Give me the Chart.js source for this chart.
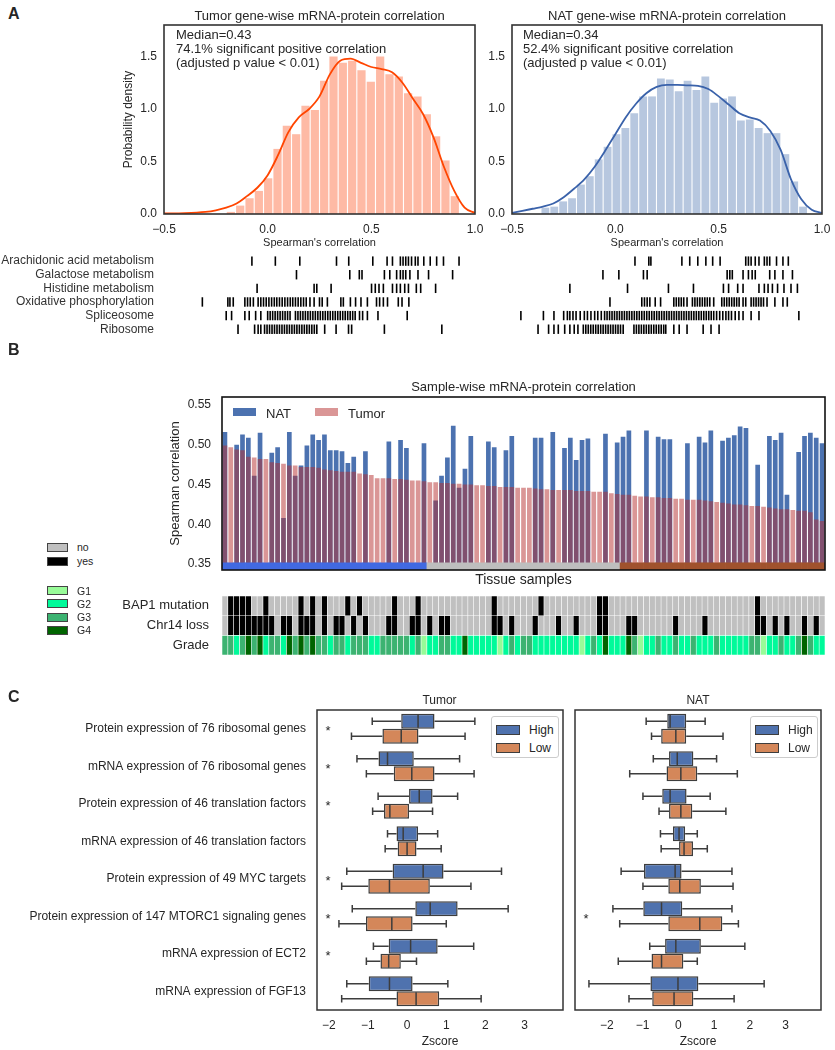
<!DOCTYPE html>
<html>
<head>
<meta charset="utf-8">
<script src="https://cdn.jsdelivr.net/npm/chart.js@4.4.0/dist/chart.umd.min.js"></script>
<style>
  body { margin: 0; background: #fff; font-family: "Liberation Sans", Arial, sans-serif; color: #262626; }
  #page { position: relative; width: 835px; height: 1050px; overflow: hidden; }
  .txt { position: absolute; white-space: nowrap; line-height: 1; }
  .rect { position: absolute; box-sizing: border-box; }
</style>
</head>
<body>
<div id="page"></div>
<script>
// ---------- Panel A: gene-wise correlation histograms ----------
const tumorBinCenters = [-0.1775, -0.1325, -0.0875, -0.0425, 0.0025, 0.0475, 0.0925, 0.1375, 0.1825, 0.2275, 0.2725, 0.3175, 0.3625, 0.4075, 0.4525, 0.4975, 0.5425, 0.5875, 0.6325, 0.6775, 0.7225, 0.7675, 0.8125, 0.8575, 0.9025];
const tumorDensity = [0.02, 0.08, 0.15, 0.22, 0.34, 0.62, 0.84, 0.76, 1.03, 0.99, 1.27, 1.5, 1.44, 1.46, 1.37, 1.26, 1.5, 1.33, 1.31, 1.15, 1.12, 0.95, 0.74, 0.51, 0.17];
const tumorKdeX = [-0.5, -0.4, -0.3, -0.25, -0.2, -0.15, -0.1, -0.05, 0.0, 0.05, 0.1, 0.15, 0.2, 0.25, 0.3, 0.35, 0.4, 0.45, 0.5, 0.55, 0.6, 0.65, 0.7, 0.75, 0.8, 0.85, 0.9, 0.95, 1.0];
const tumorKdeY = [0.005, 0.008, 0.02, 0.035, 0.06, 0.1, 0.17, 0.25, 0.37, 0.56, 0.78, 0.92, 1.0, 1.12, 1.33, 1.46, 1.48, 1.44, 1.4, 1.38, 1.35, 1.25, 1.1, 0.95, 0.73, 0.45, 0.22, 0.06, 0.01];

const natBinCenters = [-0.3385, -0.2955, -0.2525, -0.2095, -0.1665, -0.1235, -0.0805, -0.0375, 0.0055, 0.0485, 0.0915, 0.1345, 0.1775, 0.2205, 0.2635, 0.3065, 0.3495, 0.3925, 0.4355, 0.4785, 0.5215, 0.5645, 0.6075, 0.6505, 0.6935, 0.7365, 0.7795, 0.8225, 0.8655, 0.9085];
const natDensity = [0.06, 0.07, 0.12, 0.15, 0.28, 0.36, 0.52, 0.64, 0.76, 0.82, 0.96, 1.12, 1.12, 1.29, 1.28, 1.17, 1.27, 1.18, 1.31, 1.06, 1.10, 1.12, 0.89, 0.90, 0.82, 0.77, 0.77, 0.57, 0.31, 0.07];
const natKdeX = [-0.5, -0.45, -0.4, -0.35, -0.3, -0.25, -0.2, -0.15, -0.1, -0.05, 0.0, 0.05, 0.1, 0.15, 0.2, 0.25, 0.3, 0.35, 0.4, 0.45, 0.5, 0.55, 0.6, 0.65, 0.7, 0.75, 0.8, 0.85, 0.9, 0.95, 1.0];
const natKdeY = [0.01, 0.03, 0.05, 0.07, 0.1, 0.16, 0.24, 0.33, 0.45, 0.6, 0.76, 0.92, 1.05, 1.15, 1.21, 1.23, 1.23, 1.225, 1.22, 1.19, 1.12, 1.04, 0.96, 0.92, 0.89, 0.79, 0.61, 0.33, 0.14, 0.04, 0.01];

const histTicksX = [-0.5, 0.0, 0.5, 1.0];

// pathway rug positions (gene correlations)
const pathways = ["Arachidonic acid metabolism", "Galactose metabolism", "Histidine metabolism", "Oxidative phosphorylation", "Spliceosome", "Ribosome"];
const tumorRugs = [
  [-0.076, 0.037, 0.155, 0.332, 0.391, 0.507, 0.576, 0.602, 0.640, 0.653, 0.666, 0.679, 0.694, 0.712, 0.725, 0.753, 0.784, 0.815, 0.848, 0.923],
  [0.139, 0.396, 0.442, 0.455, 0.563, 0.589, 0.622, 0.640, 0.653, 0.666, 0.686, 0.725, 0.776, 0.892],
  [-0.051, 0.224, 0.237, 0.306, 0.501, 0.519, 0.537, 0.558, 0.602, 0.622, 0.640, 0.661, 0.679, 0.717, 0.738, 0.810],
  [-0.315, -0.192, -0.182, -0.166, -0.110, -0.097, -0.084, -0.069, -0.046, -0.033, -0.020, -0.007, 0.006, 0.019, 0.032, 0.044, 0.057, 0.070, 0.083, 0.096, 0.109, 0.121, 0.134, 0.147, 0.160, 0.173, 0.186, 0.204, 0.224, 0.250, 0.263, 0.288, 0.353, 0.365, 0.399, 0.424, 0.450, 0.481, 0.525, 0.540, 0.558, 0.578, 0.630, 0.648, 0.681],
  [-0.200, -0.174, -0.110, -0.089, -0.058, -0.033, 0.0, 0.012, 0.024, 0.036, 0.048, 0.060, 0.072, 0.084, 0.096, 0.108, 0.134, 0.146, 0.158, 0.170, 0.182, 0.194, 0.206, 0.218, 0.230, 0.242, 0.254, 0.266, 0.278, 0.290, 0.302, 0.314, 0.326, 0.338, 0.350, 0.362, 0.374, 0.386, 0.398, 0.410, 0.422, 0.443, 0.458, 0.481, 0.532, 0.673],
  [-0.143, -0.063, -0.046, -0.033, -0.015, -0.003, 0.009, 0.021, 0.033, 0.045, 0.057, 0.069, 0.081, 0.093, 0.105, 0.117, 0.129, 0.141, 0.153, 0.165, 0.177, 0.189, 0.201, 0.213, 0.225, 0.237, 0.275, 0.330, 0.390, 0.405, 0.563, 0.840]
];
const natRugs = [
  [0.095, 0.162, 0.172, 0.322, 0.360, 0.399, 0.438, 0.471, 0.507, 0.631, 0.644, 0.657, 0.677, 0.695, 0.721, 0.734, 0.747, 0.780, 0.811, 0.837],
  [-0.060, 0.017, 0.136, 0.154, 0.541, 0.554, 0.566, 0.618, 0.644, 0.662, 0.677, 0.747, 0.772, 0.811, 0.857],
  [-0.220, 0.059, 0.257, 0.378, 0.523, 0.548, 0.592, 0.618, 0.695, 0.721, 0.739, 0.760, 0.785, 0.816, 0.850, 0.881],
  [-0.026, 0.128, 0.141, 0.154, 0.167, 0.193, 0.219, 0.283, 0.295, 0.307, 0.319, 0.331, 0.347, 0.373, 0.385, 0.397, 0.409, 0.421, 0.433, 0.445, 0.457, 0.476, 0.515, 0.527, 0.539, 0.551, 0.563, 0.575, 0.587, 0.599, 0.618, 0.631, 0.657, 0.669, 0.681, 0.693, 0.705, 0.717, 0.734, 0.772, 0.811, 0.832],
  [-0.457, -0.348, -0.297, -0.250, -0.232, -0.220, -0.205, -0.190, -0.170, -0.150, -0.135, -0.118, -0.100, -0.085, -0.068, -0.052, -0.040, -0.028, -0.016, -0.004, 0.008, 0.020, 0.032, 0.044, 0.056, 0.068, 0.080, 0.092, 0.104, 0.116, 0.128, 0.140, 0.152, 0.164, 0.176, 0.188, 0.200, 0.212, 0.224, 0.236, 0.248, 0.260, 0.272, 0.284, 0.296, 0.308, 0.320, 0.332, 0.344, 0.356, 0.368, 0.380, 0.392, 0.404, 0.416, 0.428, 0.440, 0.452, 0.464, 0.476, 0.490, 0.505, 0.520, 0.535, 0.548, 0.562, 0.580, 0.598, 0.618, 0.657, 0.695, 0.888],
  [-0.374, -0.323, -0.297, -0.276, -0.245, -0.220, -0.199, -0.181, -0.155, -0.143, -0.131, -0.119, -0.107, -0.095, -0.083, -0.071, -0.059, -0.047, -0.035, -0.023, -0.011, 0.001, 0.013, 0.025, 0.038, 0.090, 0.102, 0.114, 0.126, 0.138, 0.150, 0.162, 0.174, 0.186, 0.198, 0.210, 0.222, 0.234, 0.244, 0.283, 0.309, 0.347, 0.425, 0.463, 0.502]
];

// ---------- Panel B: sample-wise correlation ----------
const tumorCorr = [0.499, 0.497, 0.494, 0.493, 0.485, 0.484, 0.482, 0.482, 0.478, 0.477, 0.476, 0.474, 0.474, 0.472, 0.472, 0.472, 0.471, 0.469, 0.468, 0.467,
  0.466, 0.466, 0.466, 0.464, 0.463, 0.462, 0.458, 0.458, 0.458, 0.457, 0.457, 0.456, 0.455, 0.455, 0.454, 0.453, 0.453, 0.452, 0.452, 0.451,
  0.451, 0.450, 0.450, 0.449, 0.449, 0.448, 0.448, 0.447, 0.447, 0.447, 0.446, 0.446, 0.446, 0.445, 0.444, 0.444, 0.443, 0.443, 0.443, 0.443,
  0.442, 0.442, 0.442, 0.441, 0.441, 0.441, 0.439, 0.438, 0.437, 0.437, 0.436, 0.435, 0.435, 0.434, 0.434, 0.433, 0.433, 0.432, 0.432, 0.431,
  0.431, 0.431, 0.430, 0.429, 0.428, 0.427, 0.426, 0.425, 0.425, 0.424, 0.423, 0.423, 0.422, 0.421, 0.420, 0.419, 0.419, 0.418, 0.417, 0.417,
  0.415, 0.406, 0.404];
const natCorr = [0.516, null, 0.500, 0.513, 0.509, 0.461, 0.515, null, 0.490, 0.497, 0.408, 0.516, 0.461, 0.474, 0.499, 0.513, 0.506, 0.513, 0.493, 0.493,
  0.492, 0.477, 0.485, null, 0.492, null, null, null, 0.504, null, 0.506, 0.496, null, null, 0.502, null, 0.430, 0.461, 0.484, 0.524,
  0.446, 0.470, 0.511, null, null, 0.504, 0.497, null, 0.493, 0.511, null, null, null, 0.509, 0.509, null, 0.516, null, 0.496, 0.509,
  0.481, 0.506, 0.508, null, null, 0.514, null, 0.503, 0.510, 0.518, null, null, 0.518, null, 0.510, 0.507, 0.507, null, null, 0.502,
  null, 0.510, 0.503, 0.518, null, 0.505, 0.509, 0.512, 0.523, 0.521, null, 0.475, null, 0.511, 0.506, 0.515, 0.437, null, 0.491, 0.511,
  0.515, 0.509, 0.502];
const sampleGroupSizes = [35, 33, 35];
const sampleGroupColors = ["#4169E1", "#BEBEBE", "#A0522D"];
const corrTicks = [0.35, 0.40, 0.45, 0.50, 0.55];

// clinical annotation tracks (1 = yes)
const bap1Samples = [1, 2, 3, 4, 7, 13, 15, 17, 21, 23, 29, 33, 46, 54, 64, 65, 91];
const chr14Samples = [1, 2, 3, 4, 5, 6, 7, 8, 10, 11, 13, 14, 15, 17, 19, 20, 22, 24, 28, 29, 32, 33, 35, 37, 38, 46, 47, 49, 53, 57, 60, 64, 65, 69, 70, 77, 82, 91, 92, 94, 96, 99, 101];
const grade = [3, 3, 2, 3, 4, 3, 4, 2, 3, 3, 2, 4, 3, 4, 3, 4, 3, 3, 2, 3, 3, 2, 3, 3, 3, 2, 2, 3, 3, 3, 3, 3, 2, 3, 1,
  2, 2, 3, 3, 2, 2, 4, 2, 2, 2, 2, 2, 1, 2, 3, 2, 3, 3, 2, 2, 2, 2, 2, 2, 2, 2, 1, 2, 3, 2, 4, 2, 2, 2,
  4, 3, 1, 2, 2, 3, 2, 2, 3, 2, 2, 3, 2, 2, 2, 3, 2, 2, 2, 2, 2, 3, 3, 1, 2, 2, 3, 2, 2, 3, 4, 3, 2, 2];
const gradeColors = { 1: "#98FB98", 2: "#00FA9A", 3: "#3CB371", 4: "#006400" };

// ---------- Panel C: box plots [min, q1, median, q3, max] ----------
const geneSets = ["Protein expression of 76 ribosomal genes", "mRNA expression of 76 ribosomal genes", "Protein expression of 46 translation factors",
  "mRNA expression of 46 translation factors", "Protein expression of 49 MYC targets", "Protein expression of 147 MTORC1 signaling genes",
  "mRNA expression of ECT2", "mRNA expression of FGF13"];
const tumorHigh = [[-0.89, -0.15, 0.28, 0.70, 1.73], [-1.28, -0.73, -0.50, 0.17, 1.34], [-0.74, 0.05, 0.31, 0.65, 1.29], [-0.50, -0.27, -0.10, 0.28, 0.78],
  [-1.54, -0.37, 0.41, 0.93, 2.41], [-1.40, 0.21, 0.59, 1.29, 2.58], [-0.86, -0.47, 0.09, 0.78, 1.70], [-1.54, -0.98, -0.45, 0.14, 1.04]];
const tumorLow = [[-1.42, -0.63, -0.15, 0.29, 1.48], [-1.04, -0.34, 0.12, 0.70, 1.71], [-0.88, -0.59, -0.44, 0.05, 0.65], [-0.56, -0.24, 0.0, 0.24, 0.87],
  [-1.67, -0.99, -0.45, 0.58, 1.63], [-1.74, -1.05, -0.39, 0.14, 1.0], [-1.04, -0.68, -0.47, -0.16, 0.24], [-1.67, -0.27, 0.23, 0.82, 1.89]];
const natHigh = [[-0.90, -0.31, -0.23, 0.22, 0.75], [-0.70, -0.26, -0.03, 0.42, 1.07], [-0.99, -0.45, -0.23, 0.23, 0.89], [-0.50, -0.15, 0.02, 0.19, 0.53],
  [-1.60, -0.96, -0.09, 0.09, 1.50], [-1.83, -0.98, -0.47, 0.11, 1.50], [-0.80, -0.37, -0.07, 0.63, 1.86], [-2.50, -0.78, -0.01, 0.56, 2.40]];
const natLow = [[-0.75, -0.48, -0.07, 0.22, 1.25], [-1.36, -0.33, 0.07, 0.53, 1.65], [-0.54, -0.26, 0.07, 0.39, 1.33], [-0.48, 0.02, 0.16, 0.41, 0.81],
  [-0.99, -0.28, 0.04, 0.63, 1.53], [-1.64, -0.28, 0.60, 1.23, 1.68], [-1.68, -0.75, -0.47, 0.14, 0.53], [-1.38, -0.73, -0.12, 0.42, 1.56]];
const tumorSig = [1, 1, 1, 0, 1, 1, 1, 0];
const natSig = [0, 0, 0, 0, 0, 1, 0, 0];

const FONT = "'Liberation Sans', Arial, sans-serif";
Chart.defaults.font.family = FONT;
Chart.defaults.font.size = 12;
Chart.defaults.color = "#262626";
Chart.defaults.animation = false;

const page = document.getElementById("page");

function addCanvas(left, top, width, height) {
  const c = document.createElement("canvas");
  c.width = width;
  c.height = height;
  c.style.cssText = `position:absolute;left:${left}px;top:${top}px;width:${width}px;height:${height}px;`;
  page.appendChild(c);
  return c;
}

function addText(text, x, y, size, align, extra) {
  const d = document.createElement("div");
  d.className = "txt";
  d.textContent = text;
  const tx = align === "center" ? "-50%" : align === "right" ? "-100%" : "0";
  d.style.cssText = `left:${x}px;top:${y}px;font-size:${size}px;transform:translate(${tx},-50%);${extra || ""}`;
  page.appendChild(d);
}

function addRect(x, y, w, h, style) {
  const d = document.createElement("div");
  d.className = "rect";
  d.style.cssText = `left:${x}px;top:${y}px;width:${w}px;height:${h}px;${style}`;
  page.appendChild(d);
}

// fixed axis sizes so every chart area lands where the figure has it
function fixY(width) {
  return (s) => { s.width = width; s.paddingTop = 0; s.paddingBottom = 0; };
}
function fixX(height) {
  return (s) => { s.height = height; s.paddingLeft = 0; s.paddingRight = 0; };
}
const minus = (v) => String(v).replace("-", "\u2212");

const framePlugin = {
  id: "frame",
  afterDraw(chart, args, opts) {
    const a = chart.chartArea;
    const ctx = chart.ctx;
    ctx.save();
    ctx.strokeStyle = opts.color || "#262626";
    ctx.lineWidth = opts.width || 1.5;
    ctx.strokeRect(a.left, a.top, a.right - a.left, a.bottom - a.top);
    ctx.restore();
  }
};

const boxPlugin = {
  id: "boxes",
  afterDatasetsDraw(chart, args, opts) {
    const ctx = chart.ctx;
    const xs = chart.scales.x;
    const ys = chart.scales.y;
    ctx.save();
    ctx.strokeStyle = "#3d3d3d";
    ctx.lineWidth = 1.5;
    chart.data.datasets.forEach((ds, d) => {
      chart.getDatasetMeta(d).data.forEach((bar, i) => {
        const p = ds.stats[i].map((v) => xs.getPixelForValue(v));
        const y = bar.y;
        const h = bar.height;
        ctx.beginPath();
        ctx.moveTo(p[0], y); ctx.lineTo(p[1], y);
        ctx.moveTo(p[3], y); ctx.lineTo(p[4], y);
        ctx.moveTo(p[0], y - h / 4); ctx.lineTo(p[0], y + h / 4);
        ctx.moveTo(p[4], y - h / 4); ctx.lineTo(p[4], y + h / 4);
        ctx.moveTo(p[2], y - h / 2 + 1); ctx.lineTo(p[2], y + h / 2 - 1);
        ctx.stroke();
      });
    });
    ctx.fillStyle = "#262626";
    ctx.font = "13px " + FONT;
    ctx.textAlign = "center";
    ctx.textBaseline = "middle";
    (opts.sig || []).forEach((s, i) => {
      if (s) ctx.fillText("*", chart.chartArea.left + 11, ys.getPixelForValue(i) + 3);
    });
    ctx.restore();
  }
};

// ---------- Panel A charts ----------
function histChart(canvas, bins, dens, kx, ky, barColor, lineColor, yWidth, showTitle, padRight) {
  return new Chart(canvas, {
    type: "bar",
    data: {
      datasets: [
        {
          type: "line",
          data: kx.map((x, i) => ({ x: x, y: ky[i] })),
          borderColor: lineColor,
          borderWidth: 1.8,
          pointRadius: 0,
          cubicInterpolationMode: "monotone",
          fill: false
        },
        {
          type: "bar",
          data: bins.map((x, i) => ({ x: x, y: dens[i] })),
          backgroundColor: barColor,
          borderWidth: 0,
          barPercentage: 0.88,
          categoryPercentage: 1.0
        }
      ]
    },
    options: {
      responsive: false,
      layout: { padding: { top: 5, right: padRight, left: 0, bottom: 0 } },
      plugins: { legend: { display: false }, tooltip: { enabled: false }, frame: { color: "#333", width: 1.6 } },
      scales: {
        x: {
          type: "linear", min: -0.5, max: 1.0, offset: false,
          grid: { display: false, drawTicks: false }, border: { display: false },
          afterBuildTicks: (s) => { s.ticks = histTicksX.map((v) => ({ value: v })); },
          ticks: { padding: 8, font: { size: 12 }, callback: (v) => minus(v.toFixed(1)) },
          title: { display: true, text: "Spearman's correlation", font: { size: 11 }, padding: 0 },
          afterFit: fixX(36)
        },
        y: {
          min: 0, max: 1.8,
          grid: { display: false, drawTicks: false }, border: { display: false },
          ticks: { stepSize: 0.5, includeBounds: false, padding: 7, font: { size: 12 }, callback: (v) => v.toFixed(1) },
          title: { display: showTitle, text: "Probability density", font: { size: 12 }, padding: { top: 11, bottom: 0 } },
          afterFit: fixY(yWidth)
        }
      }
    },
    plugins: [framePlugin]
  });
}

histChart(addCanvas(110, 20, 380, 230), tumorBinCenters, tumorDensity, tumorKdeX, tumorKdeY,
  "rgba(252,90,40,0.42)", "#FF4500", 54, true, 15);
histChart(addCanvas(480, 20, 355, 230), natBinCenters, natDensity, natKdeX, natKdeY,
  "rgba(76,114,176,0.4)", "#3A62AA", 32, false, 13);

function rugChart(canvas, rugs, showLabels, yWidth, padLeft, padRight) {
  return new Chart(canvas, {
    type: "scatter",
    data: {
      datasets: rugs.map((vals, r) => ({
        data: vals.map((v) => ({ x: v, y: pathways[r] })),
        pointStyle: "line",
        rotation: 90,
        radius: 4.7,
        borderWidth: 1.6,
        borderColor: "#000",
        backgroundColor: "#000",
        clip: false
      }))
    },
    options: {
      responsive: false,
      layout: { padding: { top: 6, bottom: 7, left: padLeft, right: padRight } },
      plugins: { legend: { display: false }, tooltip: { enabled: false } },
      scales: {
        x: { type: "linear", min: -0.5, max: 1.0, display: false },
        y: {
          type: "category", labels: pathways, offset: true, display: showLabels,
          grid: { display: false, drawTicks: false }, border: { display: false },
          ticks: { padding: 10, autoSkip: false, font: { size: 12 }, color: "#333" },
          afterFit: fixY(yWidth)
        }
      }
    }
  });
}
rugChart(addCanvas(0, 248, 490, 95), tumorRugs, true, 164, 0, 15);
rugChart(addCanvas(500, 248, 335, 95), natRugs, false, 0, 12, 13);

// ---------- Panel B chart ----------
const sampleIds = tumorCorr.map((_, i) => "S" + (i + 1));
const sampleStripColors = [];
sampleGroupSizes.forEach((n, g) => { for (let k = 0; k < n; k++) sampleStripColors.push(sampleGroupColors[g]); });
const corrMin = 0.3425;

new Chart(addCanvas(160, 392, 675, 197), {
  type: "bar",
  data: {
    labels: sampleIds,
    datasets: [
      {
        label: "strip",
        data: sampleIds.map(() => [corrMin, 0.3515]),
        backgroundColor: sampleStripColors,
        borderWidth: 0, barPercentage: 1.0, categoryPercentage: 1.0, grouped: false
      },
      {
        label: "Tumor",
        data: tumorCorr,
        backgroundColor: "rgba(181,45,45,0.5)",
        borderWidth: 0, barPercentage: 0.8, categoryPercentage: 1.0, grouped: false
      },
      {
        label: "NAT",
        data: natCorr,
        backgroundColor: "#4C72B0",
        borderWidth: 0, barPercentage: 0.8, categoryPercentage: 1.0, grouped: false
      }
    ]
  },
  options: {
    responsive: false,
    layout: { padding: { top: 5, right: 10, left: 0, bottom: 0 } },
    plugins: { legend: { display: false }, tooltip: { enabled: false }, frame: { color: "#111", width: 1.6 } },
    scales: {
      x: {
        grid: { display: false, drawTicks: false }, border: { display: false },
        ticks: { display: false },
        title: { display: true, text: "Tissue samples", font: { size: 14 }, padding: 0 },
        afterFit: fixX(19)
      },
      y: {
        min: corrMin, max: 0.5601,
        grid: { display: false, drawTicks: false }, border: { display: false },
        afterBuildTicks: (s) => { s.ticks = corrTicks.map((v) => ({ value: v })); },
        ticks: { padding: 11, font: { size: 12 }, callback: (v) => v.toFixed(2) },
        title: { display: true, text: "Spearman correlation", font: { size: 13 }, padding: { top: 8, bottom: 0 } },
        afterFit: fixY(62)
      }
    }
  },
  plugins: [framePlugin]
});

// annotation heatmap
const trackRows = { 2.5: "BAP1 mutation", 1.5: "Chr14 loss", 0.5: "Grade" };
const binColor = (on) => (on ? "#000000" : "#C0C0C0");
new Chart(addCanvas(0, 590, 835, 70), {
  type: "bar",
  data: {
    labels: sampleIds,
    datasets: [
      { data: sampleIds.map(() => [2, 3]), backgroundColor: sampleIds.map((_, i) => binColor(bap1Samples.includes(i))) },
      { data: sampleIds.map(() => [1, 2]), backgroundColor: sampleIds.map((_, i) => binColor(chr14Samples.includes(i))) },
      { data: sampleIds.map(() => [0, 1]), backgroundColor: grade.map((g) => gradeColors[g]) }
    ].map((d) => Object.assign(d, {
      borderWidth: 0.6, borderColor: "rgba(255,255,255,0.75)", borderSkipped: false,
      barPercentage: 1.0, categoryPercentage: 1.0, grouped: false
    }))
  },
  options: {
    responsive: false,
    layout: { padding: { top: 6, right: 10, left: 0, bottom: 5 } },
    plugins: { legend: { display: false }, tooltip: { enabled: false } },
    scales: {
      x: { display: false },
      y: {
        min: 0, max: 3,
        grid: { display: false, drawTicks: false }, border: { display: false },
        afterBuildTicks: (s) => { s.ticks = [0.5, 1.5, 2.5].map((v) => ({ value: v })); },
        ticks: { padding: 13, font: { size: 13 }, callback: (v) => trackRows[v] },
        afterFit: fixY(222)
      }
    }
  }
});

// ---------- Panel C charts ----------
function boxChart(canvas, high, low, sig, xmin, xmax, yWidth, showLabels, padRight) {
  const mk = (label, stats, color) => ({
    label: label,
    data: stats.map((s) => [s[1], s[3]]),
    stats: stats,
    backgroundColor: color,
    borderColor: "#3d3d3d",
    borderWidth: 1.5,
    borderSkipped: false,
    barPercentage: 1.0,
    categoryPercentage: 0.8
  });
  return new Chart(canvas, {
    type: "bar",
    data: { labels: geneSets, datasets: [mk("High", high, "#4F72AE"), mk("Low", low, "#D4875A")] },
    options: {
      indexAxis: "y",
      responsive: false,
      layout: { padding: { top: 5, right: padRight, left: 0, bottom: 0 } },
      plugins: { legend: { display: false }, tooltip: { enabled: false }, frame: { color: "#333", width: 1.5 }, boxes: { sig: sig } },
      scales: {
        x: {
          type: "linear", min: xmin, max: xmax,
          grid: { display: false, drawTicks: false }, border: { display: false },
          ticks: { stepSize: 1, includeBounds: false, padding: 8, font: { size: 12 }, callback: (v) => minus(v) },
          title: { display: true, text: "Zscore", font: { size: 12 }, padding: 0 },
          afterFit: fixX(39)
        },
        y: {
          grid: { display: false, drawTicks: false }, border: { display: false },
          ticks: { display: showLabels, padding: 11, font: { size: 12 } },
          afterFit: fixY(yWidth)
        }
      }
    },
    plugins: [framePlugin, boxPlugin]
  });
}
boxChart(addCanvas(0, 705, 575, 344), tumorHigh, tumorLow, tumorSig, -2.3, 3.98, 317, true, 12);
boxChart(addCanvas(565, 705, 270, 344), natHigh, natLow, natSig, -2.89, 3.99, 10, false, 14);

// ---------- text, titles and legends ----------
addText("A", 8, 14, 16, "left", "font-weight:bold;");
addText("B", 8, 350, 16, "left", "font-weight:bold;");
addText("C", 8, 697, 16, "left", "font-weight:bold;");

addText("Tumor gene-wise mRNA-protein correlation", 319.5, 15, 13, "center");
addText("NAT gene-wise mRNA-protein correlation", 667, 15, 13, "center");
["Median=0.43", "74.1% significant positive correlation", "(adjusted p value < 0.01)"].forEach((t, i) => addText(t, 176, 34 + i * 14, 13, "left"));
["Median=0.34", "52.4% significant positive correlation", "(adjusted p value < 0.01)"].forEach((t, i) => addText(t, 523, 34 + i * 14, 13, "left"));

addText("Sample-wise mRNA-protein correlation", 523.5, 386, 13, "center");
addRect(233, 408, 23, 8, "background:#4C72B0;");
addText("NAT", 266, 412.5, 13, "left");
addRect(315, 408, 23, 8, "background:rgba(181,45,45,0.5);");
addText("Tumor", 348, 412.5, 13, "left");

[["no", "#C0C0C0", 547], ["yes", "#000000", 561], ["G1", gradeColors[1], 590.5], ["G2", gradeColors[2], 603.5], ["G3", gradeColors[3], 617], ["G4", gradeColors[4], 630]]
  .forEach(([t, c, y]) => {
    addRect(47, y - 4.5, 21, 9, `background:${c};border:1px solid #444;`);
    addText(t, 77, y, 10.5, "left");
  });

addText("Tumor", 439.5, 700, 12, "center");
addText("NAT", 698, 700, 12, "center");
[[491, 496], [750, 755]].forEach(([bx, sx]) => {
  addRect(bx, 716, 68, 42, "background:#fff;border:1px solid #ccc;border-radius:3px;");
  addRect(sx, 725, 24, 10, "background:#4F72AE;border:1.5px solid #3d3d3d;");
  addText("High", sx + 33, 730, 12, "left");
  addRect(sx, 742.5, 24, 10, "background:#D4875A;border:1.5px solid #3d3d3d;");
  addText("Low", sx + 33, 747.5, 12, "left");
});
</script>
</body>
</html>
